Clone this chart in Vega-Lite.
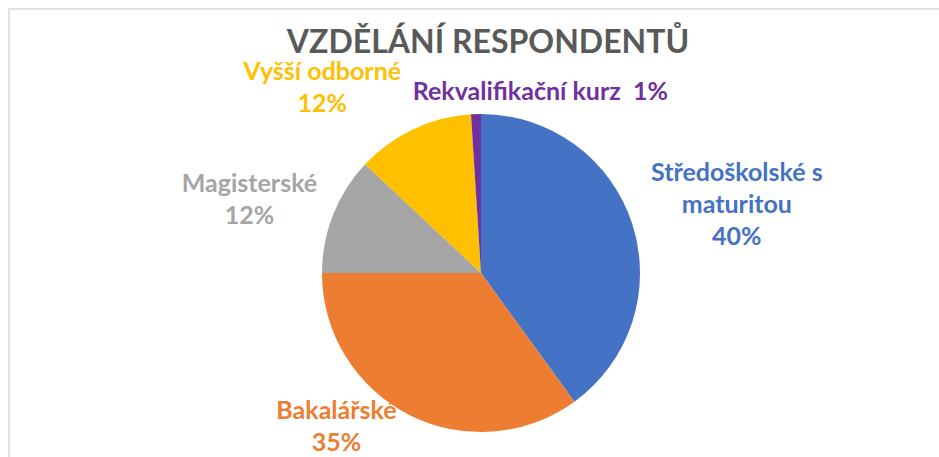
{
  "$schema": "https://vega.github.io/schema/vega-lite/v6.json",
  "width": 944,
  "height": 528,
  "autosize": "none",
  "padding": {"left": 9, "top": 9, "right": 0, "bottom": 0},
  "background": "white",
  "config": {"view": {"stroke": null}},
  "title": {
    "text": "VZDĚLÁNÍ RESPONDENTŮ",
    "font": "Lato",
    "fontSize": 32,
    "fontWeight": "bold",
    "color": "#595959",
    "anchor": "middle",
    "frame": "group",
    "offset": -52,
    "dx": 7
  },
  "layer": [
    {
      "data": {"values": [{"ramecek": 1}]},
      "mark": {"type": "rect", "fill": null, "fillOpacity": 0, "stroke": "#d9d9d9", "strokeWidth": 1.5},
      "encoding": {}
    },
    {
      "data": {
        "values": [
          {"kategorie": "Středoškolské s maturitou", "podil": 40, "poradi": 1, "popisek": "Středoškolské s\nmaturitou\n40%"},
          {"kategorie": "Bakalářské", "podil": 35, "poradi": 2, "popisek": "Bakalářské\n35%"},
          {"kategorie": "Magisterské", "podil": 12, "poradi": 3, "popisek": "Magisterské\n12%"},
          {"kategorie": "Vyšší odborné", "podil": 12, "poradi": 4, "popisek": "Vyšší odborné\n12%"},
          {"kategorie": "Rekvalifikační kurz", "podil": 1, "poradi": 5, "popisek": "Rekvalifikační kurz\u00a0 1%"}
        ]
      },
      "encoding": {
        "theta": {"field": "podil", "type": "quantitative", "stack": true},
        "order": {"field": "poradi", "type": "quantitative"},
        "color": {
          "field": "kategorie",
          "type": "nominal",
          "legend": null,
          "scale": {
            "domain": ["Středoškolské s maturitou", "Bakalářské", "Magisterské", "Vyšší odborné", "Rekvalifikační kurz"],
            "range": ["#4472C4", "#ED7D31", "#A5A5A5", "#FFC000", "#7030A0"]
          }
        }
      },
      "layer": [
        {"mark": {"type": "arc", "outerRadius": 159}},
        {
          "mark": {
            "type": "text",
            "font": "Lato",
            "fontSize": 25,
            "fontWeight": "bold",
            "lineBreak": "\n",
            "lineHeight": 32,
            "align": "center",
            "baseline": "middle",
            "radius": {"expr": "datum.poradi == 1 ? 269 : datum.poradi == 2 ? 173 : datum.poradi == 3 ? 249 : datum.poradi == 4 ? 204 : 181"},
            "dx": {"expr": "datum.poradi == 1 ? 0 : datum.poradi == 2 ? -66 : datum.poradi == 3 ? 0 : datum.poradi == 4 ? -72 : 65"},
            "dy": {"expr": "datum.poradi == 1 ? -17 : datum.poradi == 2 ? -16 : datum.poradi == 3 ? 3 : datum.poradi == 4 ? -16 : 0"}
          },
          "encoding": {"text": {"field": "popisek", "type": "nominal"}}
        }
      ]
    }
  ]
}
